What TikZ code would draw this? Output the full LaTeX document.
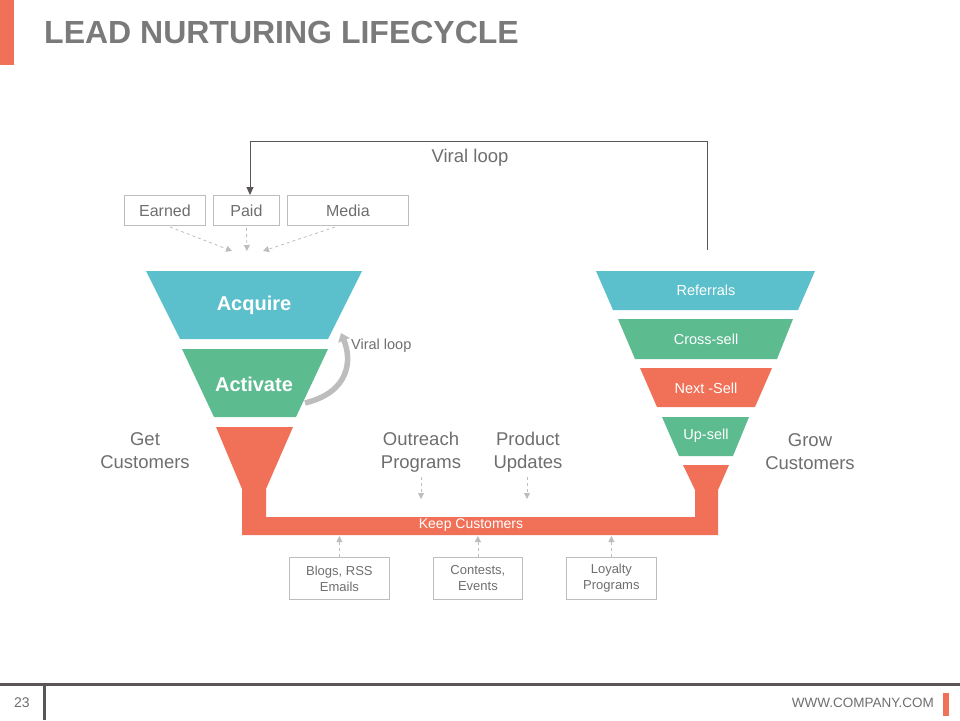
\documentclass[tikz,border=0pt]{standalone}
\usepackage{fontspec}
\setmainfont{Liberation Sans}
\usetikzlibrary{arrows.meta}
\definecolor{teal}{HTML}{5BC0CB}
\definecolor{grn}{HTML}{5CBB8F}
\definecolor{org}{HTML}{F07157}
\definecolor{txtgray}{HTML}{6E6E6E}
\definecolor{titlegray}{HTML}{7A7A7A}
\definecolor{boxgray}{HTML}{BDBDBD}
\definecolor{darkline}{HTML}{5A5657}
\tikzset{
  lbl/.style={text=txtgray, font=\fontsize{18.5}{20}\selectfont, align=center, inner sep=0pt},
  topbox/.style={draw=boxgray, line width=0.8pt, text=txtgray, font=\fontsize{16}{18}\selectfont, inner sep=0pt, anchor=north west},
  botbox/.style={draw=boxgray, line width=0.8pt, text=txtgray, font=\fontsize{13}{16}\selectfont, align=center, inner sep=0pt, anchor=north west},
  wtxt/.style={text=white, font=\fontsize{14.5}{16}\selectfont, inner sep=0pt},
  dasharr/.style={draw=boxgray, dashed, line width=0.8pt, -{Triangle[length=6pt,width=6pt]}},
}
\begin{document}
\begin{tikzpicture}[x=1pt,y=-1pt]
\useasboundingbox (0,0) rectangle (960,720);
% header
\fill[org] (0,0) rectangle (14,65);
\node[anchor=west, text=titlegray, font=\fontsize{32}{36}\bfseries\selectfont, inner sep=0pt] (title) at (44,32) {LEAD NURTURING LIFECYCLE};
% left funnel
\fill[teal] (146,271) -- (362,271) -- (328,339) -- (180,339) -- cycle;
\node[text=white, font=\fontsize{20}{24}\bfseries\selectfont, inner sep=0pt] (acq) at (254,305) {Acquire};
\fill[grn] (182,349) -- (328,349) -- (296,417) -- (214,417) -- cycle;
\node[text=white, font=\fontsize{20}{24}\bfseries\selectfont, inner sep=0pt] (act) at (254,384) {Activate};
\fill[org] (216,427) -- (293,427) -- (266,489) -- (266,517) -- (695,517) -- (695,490) -- (683,465) -- (729,465) -- (718,490) -- (718,535) -- (242,535) -- (242,489) -- cycle;
\node[text=white, font=\fontsize{14}{15}\selectfont, inner sep=0pt] (keep) at (471,525) {Keep Customers};
% right funnel
\fill[teal] (596,271) -- (815,271) -- (798,310) -- (613,310) -- cycle;
\node[wtxt] (ref) at (706,290) {Referrals};
\fill[grn] (618,319) -- (793,319) -- (777,359) -- (635,359) -- cycle;
\node[wtxt] (cross) at (706,339) {Cross-sell};
\fill[org] (640,368) -- (772,368) -- (755,407) -- (657,407) -- cycle;
\node[wtxt] (next) at (706,388) {Next -Sell};
\fill[grn] (662,417) -- (749,417) -- (733,456) -- (679,456) -- cycle;
\node[wtxt] (up) at (706,436) {Up-sell};
% top boxes
\node[topbox, minimum width=81pt, minimum height=30pt] (earned) at (124,195) {Earned};
\node[topbox, minimum width=66pt, minimum height=30pt] (paid) at (213,195) {Paid};
\node[topbox, minimum width=121pt, minimum height=30pt] (media) at (287,195) {Media};
\coordinate (t1) at (232,251);
\coordinate (t2) at (247,251);
\coordinate (t3) at (263,251);
\draw[dasharr] (170,227) -- (t1);
\draw[dasharr] (paid.south) ++(0,2) -- (t2);
\draw[dasharr] (335,227) -- (t3);
% viral loop big
\coordinate (vstart) at (707,250);
\draw[darkline, line width=0.9pt, -{Triangle[length=8pt,width=7pt]}] (vstart) -- (707,141) -- (250,141) -- (paid.north -| 250,0);
\node[lbl] (vl) at (470,158) {Viral loop};
% small viral loop
\coordinate (sl1) at (305,403);
\coordinate (sl2) at (341,333);
\draw[boxgray, line width=5.5pt, -{Triangle[length=8pt,width=12pt]}] (sl1) .. controls (350,392) and (352,360) .. (sl2);
\node[text=txtgray, font=\fontsize{14.5}{16}\selectfont, anchor=west, inner sep=0pt] (vl2) at (351,346) {Viral loop};
% labels
\node[lbl, font=\fontsize{18.5}{23}\selectfont] (get) at (145,451) {Get\\Customers};
\node[lbl, font=\fontsize{18.5}{23}\selectfont] (out) at (421,452) {Outreach\\Programs};
\node[lbl, font=\fontsize{18.5}{23}\selectfont] (prod) at (528,452) {Product\\Updates};
\node[lbl, font=\fontsize{18.5}{23}\selectfont] (grow) at (810,452) {Grow\\Customers};
\coordinate (o2) at (421,499);
\coordinate (p2) at (527,499);
\draw[dasharr] (421,477) -- (o2);
\draw[dasharr] (527,477) -- (p2);
% bottom boxes
\node[botbox, minimum width=100pt, minimum height=42pt] (blogs) at (289,557) {Blogs, RSS\\Emails};
\node[botbox, minimum width=89pt, minimum height=42pt] (contests) at (433,557) {Contests,\\Events};
\node[botbox, minimum width=90pt, minimum height=42pt] (loyal) at (566,557) {Loyalty\\Programs};
\draw[dasharr] (blogs.north) -- ++(0,-21);
\draw[dasharr] (contests.north) -- ++(0,-21);
\draw[dasharr] (loyal.north) -- ++(0,-21);
% footer
\draw[darkline, line width=3pt] (0,684) -- (960,684);
\draw[darkline, line width=3pt] (44,684) -- (44,720);
\node[text=txtgray, font=\fontsize{14}{16}\selectfont, inner sep=0pt] (pg) at (22,703) {23};
\node[text=txtgray, font=\fontsize{13.5}{16}\selectfont, anchor=east, inner sep=0pt] (web) at (934,703) {WWW.COMPANY.COM};
\fill[org] (943,693) rectangle (949,716);
\end{tikzpicture}
\end{document}
